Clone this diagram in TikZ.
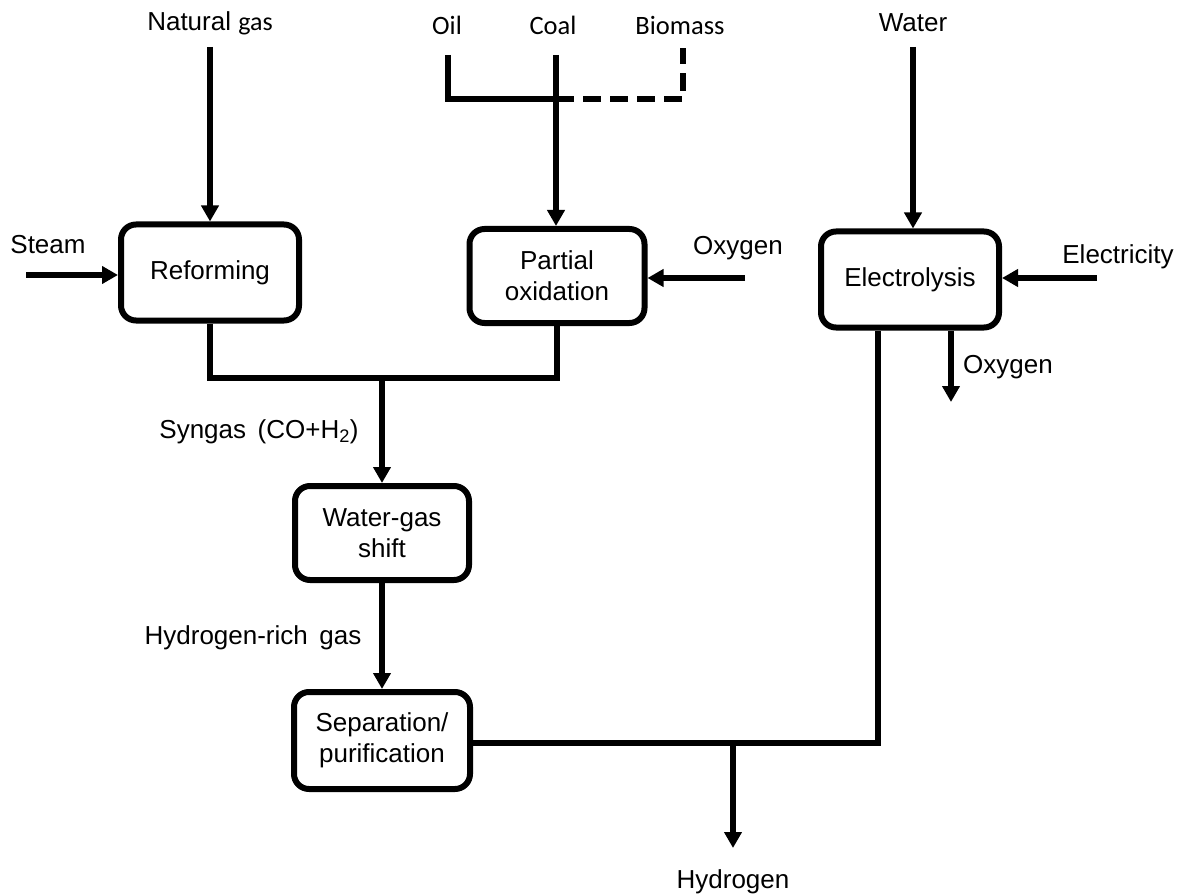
\documentclass[tikz,border=0pt]{standalone}
\usepackage{fontspec}
\setmainfont{Liberation Sans}
\newfontfamily\calfont{Carlito}
\usetikzlibrary{arrows.meta}
\begin{document}
\begin{tikzpicture}[x=1pt,y=-1pt,
  txt/.style={font=\fontsize{26}{31}\selectfont, inner sep=0pt, align=center},
  caltxt/.style={font=\calfont\fontsize{26.5}{31}\selectfont, inner sep=0pt},
  proc/.style={draw, line width=6pt, rounded corners=15pt, txt, minimum width=176pt, minimum height=96pt},
  flow/.style={line width=5.5pt},
  arr/.style={flow, -{Triangle[length=16pt,width=17pt]}},
  dashflow/.style={flow, dash pattern=on 18pt off 9pt}
]
\useasboundingbox (0,0) rectangle (1186,896);

% process boxes
\node[proc, minimum width=178pt] (ref) at (210,272.5) {Reforming};
\node[proc, minimum width=175pt, minimum height=94pt] (pox) at (557,276) {Partial\\oxidation};
\node[proc, minimum width=178pt] (elec) at (910,279.5) {Electrolysis};
\node[proc, minimum width=174pt, minimum height=94pt] (wgs) at (382,533) {Water-gas\\shift};
\node[proc, minimum width=176pt, minimum height=97pt] (sep) at (382,740.5) {Separation/\\purification};

% labels
\node[txt] (ngl) at (210,23) {Natural {\calfont gas}};
\node[txt] (steaml) at (48,245) {Steam};
\node[caltxt] (oill) at (447,25) {Oil};
\node[caltxt] (coall) at (553,25) {Coal};
\node[caltxt] (bioml) at (680,25) {Biomass};
\node[txt] (oxinl) at (738,248) {Oxygen};
\node[txt] (waterl) at (913,23) {Water};
\node[txt] (elecl) at (1118,257) {Electricity};
\node[txt] (oxoutl) at (1008,367) {Oxygen};
\node[txt] (synl) at (259,432) {Syngas\, (CO+H\textsubscript{2})};
\node[txt] (hrgl) at (253,638) {Hydrogen-rich\, gas};
\node[txt] (h2l) at (733,882) {Hydrogen};

% free ends / junctions
\coordinate (ngs) at (210,47);
\coordinate (sts) at (26,275);
\coordinate (oilt) at (448,55);
\coordinate (coalt) at (556,55);
\coordinate (biot) at (683,48);
\coordinate (jfeed) at (556,99);
\coordinate (oxs) at (745,278);
\coordinate (wts) at (913,47);
\coordinate (els) at (1097,278);
\coordinate (oxo) at (951,402);
\coordinate (jsyn) at (382,378);
\coordinate (corner) at (878,743);
\coordinate (jh2) at (733,743);
\coordinate (h2e) at (733,848);

% inputs
\draw[arr] (ngs) -- (ngs |- ref.north);
\draw[arr] (sts) -- (sts -| ref.west);
\draw[flow] (oilt) |- (jfeed);
\draw[dashflow] (jfeed) -| (biot);
\draw[arr] (coalt) -- (coalt |- pox.north);
\draw[arr] (oxs) -- (oxs -| pox.east);
\draw[arr] (wts) -- (wts |- elec.north);
\draw[arr] (els) -- (els -| elec.east);
\draw[arr] (oxo |- elec.south) -- (oxo);

% syngas path
\draw[flow] (ref.south) |- (jsyn) -| (pox.south);
\draw[arr] (jsyn) -- (wgs.north);
\draw[arr] (wgs.south) -- (sep.north);

% hydrogen collection
\draw[flow] (sep.east |- corner) -- (corner) -- (corner |- elec.south);
\draw[arr] (jh2) -- (h2e);
\end{tikzpicture}
\end{document}
